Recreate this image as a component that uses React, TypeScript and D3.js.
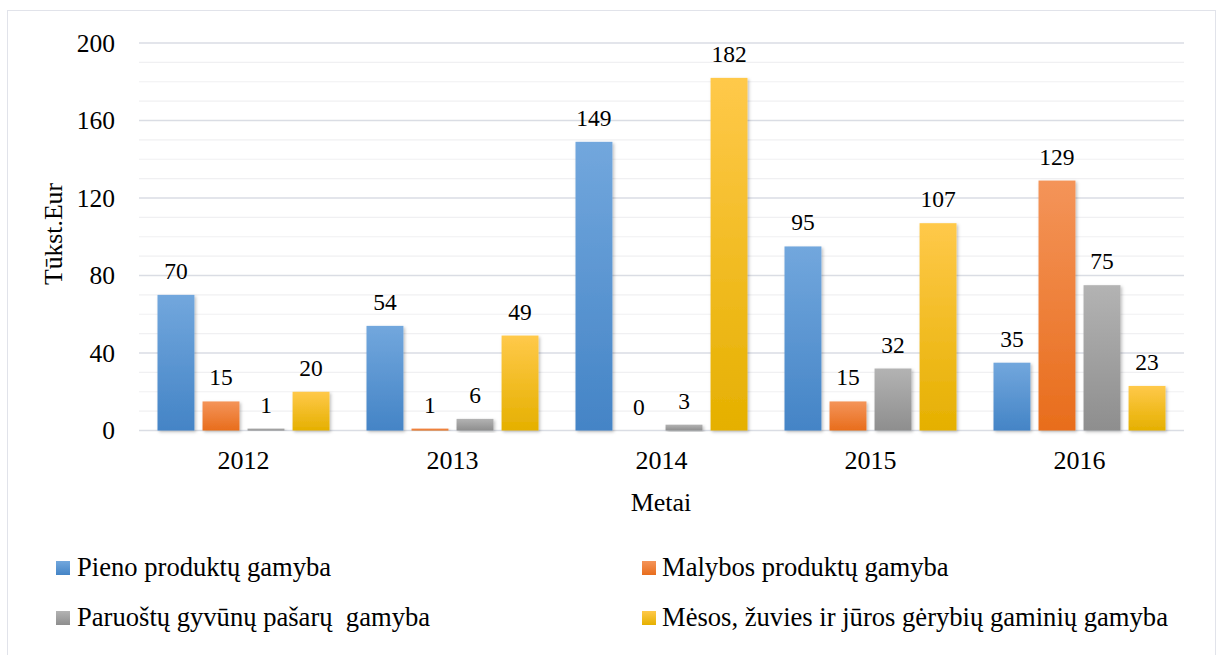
import React from "react";
import * as d3 from "d3";

const years = ["2012", "2013", "2014", "2015", "2016"];
const seriesNames = [
  "Pieno produktų gamyba",
  "Malybos produktų gamyba",
  "Paruoštų gyvūnų pašarų  gamyba",
  "Mėsos, žuvies ir jūros gėrybių gaminių gamyba",
];
const pieno = [70, 54, 149, 95, 35];
const malybos = [15, 1, 0, 15, 129];
const pasaru = [1, 6, 3, 32, 75];
const mesos = [20, 49, 182, 107, 23];
const seriesValues = [pieno, malybos, pasaru, mesos];
const yTicks = [0, 40, 80, 120, 160, 200];
const minorTicks = d3.range(0, 201, 10);

const colors = [
  { top: "#72a7dd", bottom: "#4484c6" },
  { top: "#f49459", bottom: "#e86d1c" },
  { top: "#b3b3b3", bottom: "#8e8e8e" },
  { top: "#ffc94a", bottom: "#e5b000" },
];

const FONT = "Liberation Serif, Tinos, Times New Roman, Times, serif";

export default function App() {
  const W = 1217, H = 655;
  const left = 139, right = 1184, top = 43, bottom = 430.5;
  const x0 = d3.scaleBand<string>().domain(years).range([left, right]).paddingInner(0).paddingOuter(0);
  const x1 = d3.scaleBand<number>().domain([0, 1, 2, 3]).range([18.5, x0.bandwidth() - 18.5]).paddingInner(0.18);
  const y = d3.scaleLinear().domain([0, 200]).range([bottom, top]);

  const legendPos = [
    { mx: 56, tx: 77, y: 576 },
    { mx: 642, tx: 662, y: 576 },
    { mx: 56, tx: 77, y: 626 },
    { mx: 642, tx: 662, y: 626 },
  ];
  const f = (s: number) => ({ fontFamily: FONT, fontSize: s } as React.CSSProperties);

  return (
    <svg width={W} height={H} style={{ position: "absolute", left: 0, top: 0, background: "#fff" }}>
      <defs>
        {colors.map((c, i) => (
          <linearGradient key={i} id={`g${i}`} x1="0" y1="0" x2="0" y2="1">
            <stop offset="0" stopColor={c.top} />
            <stop offset="1" stopColor={c.bottom} />
          </linearGradient>
        ))}
        <filter id="sh" x="-30%" y="-10%" width="160%" height="130%">
          <feDropShadow dx="1.5" dy="1.5" stdDeviation="1.5" floodColor="#000" floodOpacity="0.25" />
        </filter>
      </defs>
      <rect x={7.5} y={10.5} width={1208} height={660} fill="#fff" stroke="#e1e3ea" strokeWidth={1} />
      {minorTicks.filter((t) => t % 40 !== 0).map((t) => (
        <line key={"m" + t} x1={left} x2={right} y1={y(t)} y2={y(t)} stroke="#f0f0f2" strokeWidth={1.2} />
      ))}
      {yTicks.map((t) => (
        <line key={"M" + t} x1={left} x2={right} y1={y(t)} y2={y(t)} stroke="#dadde4" strokeWidth={1.3} />
      ))}
      {yTicks.map((t) => (
        <text key={"t" + t} x={115} y={y(t)} dy="0.35em" textAnchor="end" style={f(25.5)} fill="#000">
          {t}
        </text>
      ))}
      {years.map((yr, gi) => (
        <g key={yr} transform={`translate(${x0(yr)},0)`}>
          {seriesValues.map((vals, si) => {
            const v = vals[gi];
            const bx = x1(si)!;
            const bw = x1.bandwidth();
            return (
              <g key={si}>
                {v > 0 && (
                  <rect x={bx} y={y(v)} width={bw} height={y(0) - y(v)} fill={`url(#g${si})`} filter="url(#sh)" />
                )}
                <text x={bx + bw / 2} y={y(v) - 16} textAnchor="middle" style={f(23.5)} fill="#000">
                  {v}
                </text>
              </g>
            );
          })}
          <text x={x0.bandwidth() / 2} y={469} textAnchor="middle" style={f(26)} fill="#000">
            {yr}
          </text>
        </g>
      ))}
      <text x={661} y={511} textAnchor="middle" style={f(26)} fill="#000">Metai</text>
      <text transform={`translate(62,234) rotate(-90)`} textAnchor="middle" style={f(25.7)} fill="#000">
        Tūkst.Eur
      </text>
      {seriesNames.map((n, i) => (
        <g key={n}>
          <rect x={legendPos[i].mx} y={legendPos[i].y - 15} width={14} height={14} fill={`url(#g${i})`} />
          <text x={legendPos[i].tx} y={legendPos[i].y} style={{ ...f(26.6), whiteSpace: "pre" }} fill="#000">
            {n}
          </text>
        </g>
      ))}
    </svg>
  );
}
